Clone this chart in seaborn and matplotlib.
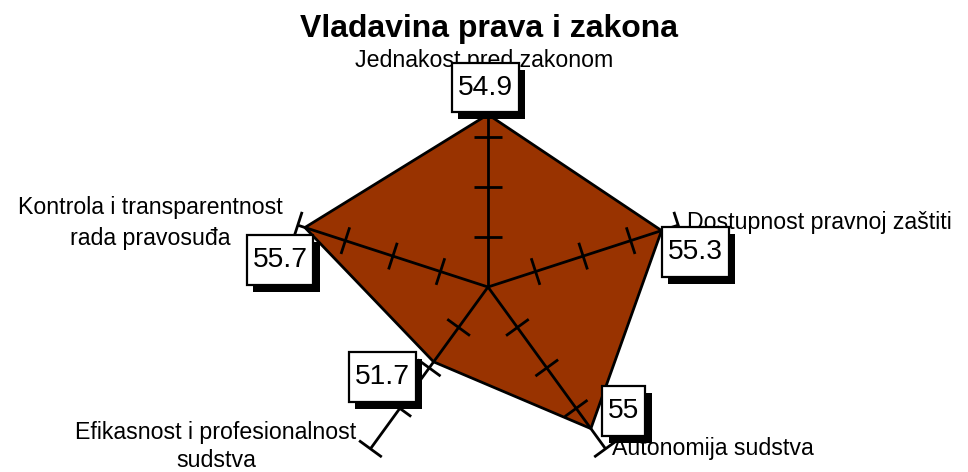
import numpy as np
import matplotlib
matplotlib.use("Agg")
import matplotlib.pyplot as plt
import matplotlib.patheffects as pe
from matplotlib.path import Path
import seaborn as sns
import pandas as pd

# ---- data ----
categories = ["Jednakost pred zakonom", "Dostupnost pravnoj zaštiti", "Autonomija sudstva",
              "Efikasnost i profesionalnost\nsudstva", "Kontrola i transparentnost\nrada pravosuđa"]
values = [54.9, 55.3, 55.0, 51.7, 55.7]
value_labels = ["54.9", "55.3", "55", "51.7", "55.7"]
title = "Vladavina prava i zakona"
r_min, r_max, r_step = 48, 56, 2

# ---- layout (pixels) ----
W, H = 968, 472
CX, CY = 488, 287          # centre of radar in pixels
PX_PER_UNIT = 25.0
FAMILY = ["Liberation Sans", "DejaVu Sans"]
LW = 2.0

sns.set_theme(style="white")
plt.rcParams["font.family"] = FAMILY

fig = plt.figure(figsize=(W / 100, H / 100), dpi=100)
ax = fig.add_axes([0, 0, 1, 1])

n = len(values)
angles = np.deg2rad(90 - 72 * np.arange(n))
radii = np.array(values) - r_min
xs = radii * np.cos(angles)
ys = radii * np.sin(angles)

def px(x, y):
    return (x - CX) / PX_PER_UNIT, (CY - y) / PX_PER_UNIT

# filled polygon
ax.fill(xs, ys, color="#993300", zorder=1, lw=0)

# spokes + tick marks
R = r_max - r_min
half = 14 / PX_PER_UNIT
for a in angles:
    ax.plot([0, R * np.cos(a)], [0, R * np.sin(a)], color="black", lw=LW, zorder=2,
            solid_capstyle="butt")
    for t in np.arange(r_step, R + 0.01, r_step):
        bx, by = t * np.cos(a), t * np.sin(a)
        nx, ny = -np.sin(a), np.cos(a)
        ax.plot([bx - half * nx, bx + half * nx], [by - half * ny, by + half * ny],
                color="black", lw=LW, zorder=2, solid_capstyle="butt")

# outline via seaborn
df = pd.DataFrame({"x": np.append(xs, xs[0]), "y": np.append(ys, ys[0])})
sns.lineplot(data=df, x="x", y="y", sort=False, estimator=None, color="black",
             lw=LW, ax=ax, zorder=3)
ax.set_xlim(-CX / PX_PER_UNIT, (W - CX) / PX_PER_UNIT)
ax.set_ylim(-(H - CY) / PX_PER_UNIT, CY / PX_PER_UNIT)
ax.axis("off")

# category labels (pixel anchors: baseline of last line)
cat_pos = [(484, 67, "center"), (687, 229, "left"), (612, 455, "left"),
           (216, 467, "center"), (150, 245, "center")]
for lab, (x, y, ha) in zip(categories, cat_pos):
    dx, dy = px(x, y)
    ax.text(dx, dy, lab, ha=ha, va="baseline", fontsize=16.7, color="black",
            linespacing=1.42 if not lab.startswith("Efik") else 1.3,
            zorder=4, multialignment="center")

# box style with separate horizontal / vertical padding
def label_box(x0, y0, width, height, mutation_size):
    padx, pady = 0.21 * mutation_size, 0.42 * mutation_size
    x0, y0 = x0 - padx, y0 - pady
    x1, y1 = x0 + width + 2 * padx, y0 + height + 2 * pady
    return Path([(x0, y0), (x1, y0), (x1, y1), (x0, y1), (x0, y0)], closed=True)

# value label boxes (offsets in pixels from the data point)
box_off = [(-2.5, -27), (34, 21.5), (33, -17.6), (-51, 15), (-25, 32.5)]
for x, y, lab, (ox, oy) in zip(xs, ys, value_labels, box_off):
    tx = x + ox / PX_PER_UNIT
    ty = y - oy / PX_PER_UNIT
    t = ax.text(tx, ty, lab, ha="center", va="center", fontsize=20.3, color="black",
                zorder=6,
                bbox=dict(boxstyle=label_box, fc="white", ec="black", lw=1.6))
    t.get_bbox_patch().set_path_effects([
        pe.SimplePatchShadow(offset=(4.5, -5), shadow_rgbFace="black", alpha=1.0),
        pe.Normal()])

fig.text(488.5 / W, 1 - 37 / H, title, ha="center", va="baseline",
         fontsize=23, fontweight="bold", color="black")

fig.savefig("out.png", dpi=100, facecolor="white")
